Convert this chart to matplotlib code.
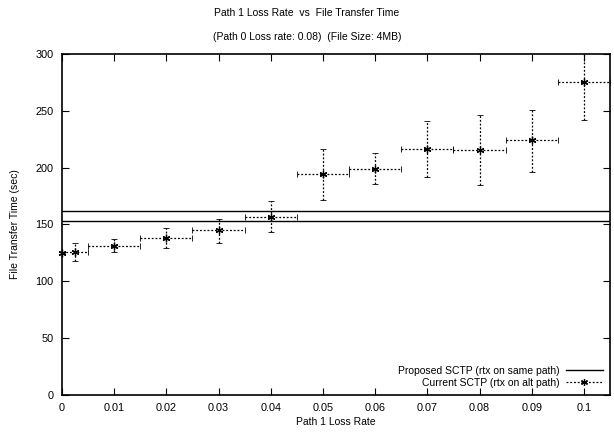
import matplotlib

matplotlib.use("Agg")
import matplotlib.pyplot as plt
from matplotlib.lines import Line2D
import numpy as np

plt.rcParams["font.family"] = ["Liberation Sans", "DejaVu Sans"]

# Current SCTP measurements (rtx on alt path)
loss_rate = [0.0, 0.0025, 0.01, 0.02, 0.03, 0.04, 0.05, 0.06, 0.07, 0.08, 0.09, 0.1]
loss_low = [0.0, 0.0, 0.005, 0.015, 0.025, 0.035, 0.045, 0.055, 0.065, 0.075, 0.085, 0.095]
loss_high = [0.0, 0.005, 0.015, 0.025, 0.035, 0.045, 0.055, 0.065, 0.075, 0.085, 0.095, 0.105]
time_mean = [125.3, 125.5, 131.4, 138.5, 145.0, 157.0, 194.3, 199.2, 216.3, 215.7, 223.9, 275.0]
time_low = [125.3, 117.5, 126.2, 129.7, 134.0, 143.0, 171.6, 185.5, 192.2, 184.6, 196.3, 242.0]
time_high = [125.3, 134.0, 137.0, 147.3, 155.0, 171.0, 216.8, 213.3, 241.0, 246.2, 250.9, 308.0]

# Proposed SCTP (rtx on same path): band shown as two lines
proposed_levels = [161.5, 153.2]

x = np.array(loss_rate)
y = np.array(time_mean)
xerr = [x - np.array(loss_low), np.array(loss_high) - x]
yerr = [y - np.array(time_low), np.array(time_high) - y]

star = (6, 2, 0)
dots = (0, (1.5, 1.5))

fig = plt.figure(figsize=(6.14, 4.34), dpi=100)
ax = fig.add_axes([0.101, 0.0899, 0.8925, 0.7857])

for level in proposed_levels:
    ax.axhline(level, color="black", linewidth=1.0)

eb = ax.errorbar(x, y, xerr=xerr, yerr=yerr, fmt="none", ecolor="black",
                 elinewidth=0.9, capsize=2, capthick=0.6)
for col in eb[2]:
    col.set_linestyle(dots)
ax.plot(x, y, linestyle="none", marker=star, color="black",
        markersize=5.5, markeredgewidth=0.9, clip_on=False, zorder=5)

ax.set_xlim(0, 0.105)
ax.set_ylim(0, 300)
ax.set_xticks(np.arange(0, 0.101, 0.01))
ax.set_xticklabels(["0"] + ["%g" % v for v in np.arange(0.01, 0.101, 0.01).round(2)])
ax.set_yticks(np.arange(0, 301, 50))
ax.tick_params(direction="in", top=True, right=True, length=5, width=0.8,
               labelsize=7.8, pad=6)
for s in ax.spines.values():
    s.set_linewidth(1.2)

ax.set_xlabel("Path 1 Loss Rate", fontsize=7.5, labelpad=3)
ax.set_ylabel("File Transfer Time (sec)", fontsize=7.5, labelpad=11)

fig.text(0.5, 0.97, "Path 1 Loss Rate  vs  File Transfer Time",
         ha="center", va="center", fontsize=7.5)
fig.text(0.5, 0.915, "(Path 0 Loss rate: 0.08)  (File Size: 4MB)",
         ha="center", va="center", fontsize=7.5)

handles = [
    Line2D([], [], color="black", linewidth=1.0),
    Line2D([], [], color="black", linewidth=0.9, linestyle=dots,
           marker=star, markersize=5, markeredgewidth=0.9),
]
labels = ["Proposed SCTP (rtx on same path)", "Current SCTP (rtx on alt path)"]
ax.legend(handles, labels, loc="lower right", markerfirst=False, frameon=False,
          fontsize=7.5, handlelength=3.5, labelspacing=0.15, borderaxespad=0.3,
          handletextpad=0.6, numpoints=1)

fig.savefig("out.png", dpi=100)
